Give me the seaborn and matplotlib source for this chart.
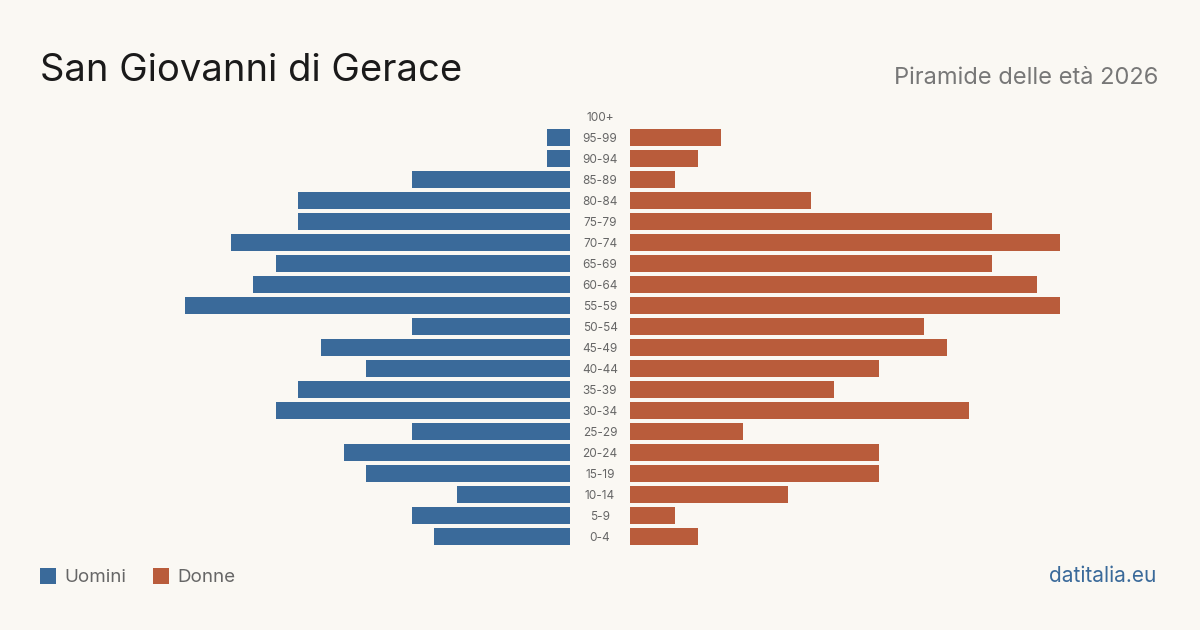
import matplotlib
matplotlib.use("Agg")
import matplotlib.pyplot as plt
import matplotlib.transforms as mtransforms
from matplotlib.patches import Rectangle
import seaborn as sns

# age classes, top to bottom
age_groups = ["100+", "95-99", "90-94", "85-89", "80-84", "75-79", "70-74", "65-69",
              "60-64", "55-59", "50-54", "45-49", "40-44", "35-39", "30-34", "25-29",
              "20-24", "15-19", "10-14", "5-9", "0-4"]
uomini = [0, 1, 1, 7, 12, 12, 15, 13, 14, 17, 7, 11, 9, 12, 13, 7, 10, 9, 5, 7, 6]
donne = [0, 4, 3, 2, 8, 16, 19, 16, 18, 19, 13, 14, 11, 9, 15, 5, 11, 11, 7, 2, 3]

title = "San Giovanni di Gerace"
subtitle = "Piramide delle età 2026"
source = "datitalia.eu"

bg = "#faf8f3"
blue = "#3a6a9a"
red = "#b95c3b"
grey = "#666666"

sns.set_theme(style="white")
plt.rcParams["font.family"] = ["Inter", "DejaVu Sans"]

fig = plt.figure(figsize=(12, 6.3), dpi=100)
fig.patch.set_facecolor(bg)

xmax = 19
ax_l = fig.add_axes([140 / 1200, 83 / 630, 430 / 1200, 441 / 630])
ax_r = fig.add_axes([630 / 1200, 83 / 630, 430 / 1200, 441 / 630])

sns.barplot(x=uomini, y=age_groups, ax=ax_l, color=blue, width=0.81,
            saturation=1, orient="h", linewidth=0)
sns.barplot(x=donne, y=age_groups, ax=ax_r, color=red, width=0.81,
            saturation=1, orient="h", linewidth=0)

ax_l.set_xlim(xmax, 0)
ax_r.set_xlim(0, xmax)
for ax in (ax_l, ax_r):
    ax.set_facecolor("none")
    ax.set_ylim(len(age_groups) - 0.5, -0.5)
    ax.set_xlabel("")
    ax.set_ylabel("")
    ax.set_xticks([])
    ax.set_yticks([])
    sns.despine(ax=ax, left=True, bottom=True)

# age labels in the middle gap
trans = mtransforms.blended_transform_factory(fig.transFigure, ax_r.transData)
for i, lab in enumerate(age_groups):
    ax_r.text(0.5, i + 0.05, lab, transform=trans, ha="center", va="center",
              fontsize=8.5, color=grey, clip_on=False)

fig.text(40 / 1200, 1 - 81 / 630, title, fontsize=27.5, color="#1a1a1a",
         ha="left", va="baseline")
fig.text(1158 / 1200, 1 - 84 / 630, subtitle, fontsize=17, color="#777777",
         ha="right", va="baseline")

# legend
for x0, lab, col in [(40, "Uomini", blue), (153, "Donne", red)]:
    fig.patches.append(Rectangle((x0 / 1200, 1 - 584 / 630), 16 / 1200, 16 / 630,
                                 transform=fig.transFigure, color=col, lw=0))
    fig.text((x0 + 24) / 1200, 1 - 582 / 630, lab, fontsize=13.5, color=grey,
             ha="left", va="baseline")

fig.text(1156 / 1200, 1 - 582 / 630, source, fontsize=15, color=blue,
         ha="right", va="baseline")

fig.savefig("out.png", dpi=100, facecolor=bg)
